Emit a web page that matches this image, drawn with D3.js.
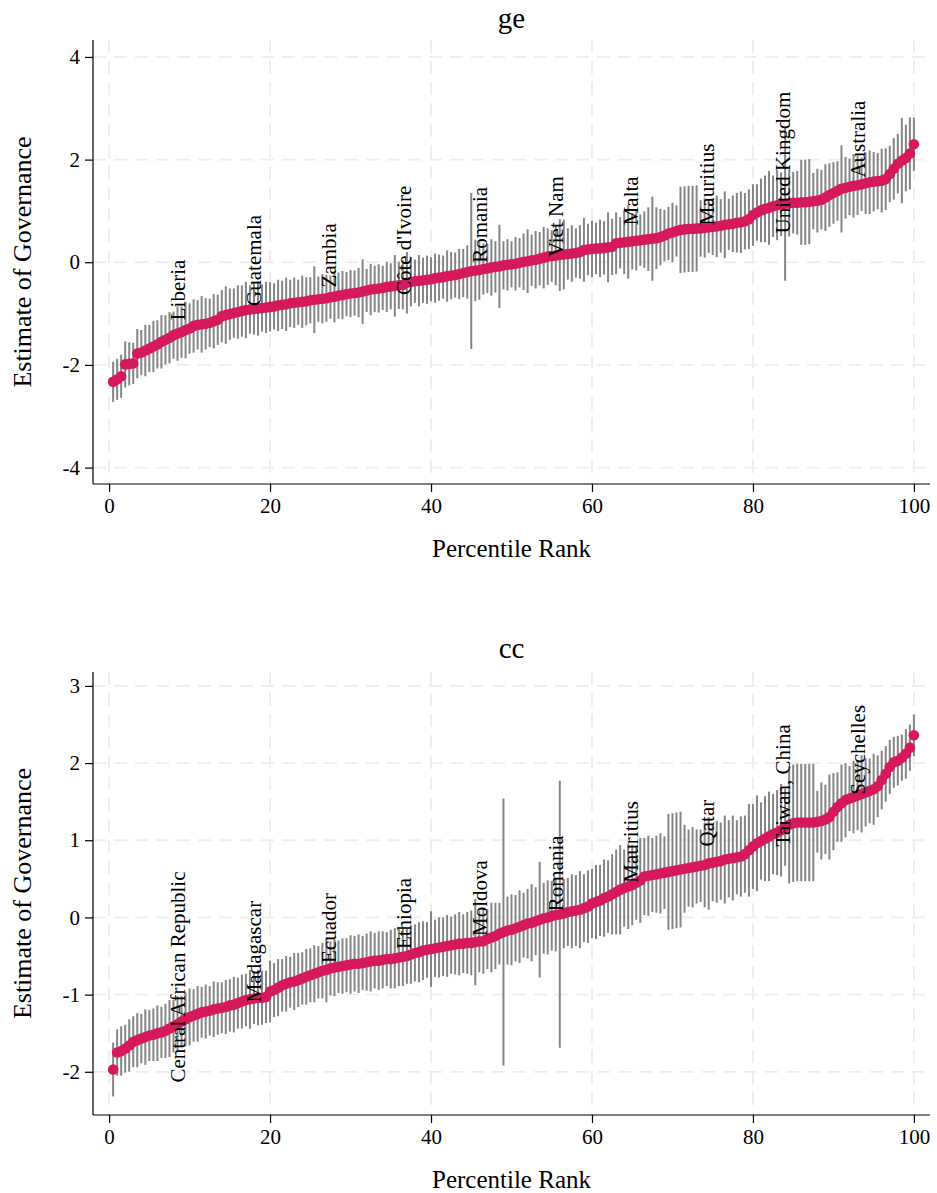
<!DOCTYPE html>
<html>
<head>
<meta charset="utf-8">
<script src="https://cdn.jsdelivr.net/npm/d3@7"></script>
<style>
  html, body { margin: 0; padding: 0; background: #ffffff; }
  svg { display: block; }
  text { font-family: "Liberation Serif", "DejaVu Serif", serif; fill: #000; }
</style>
</head>
<body>
<svg id="chart" width="937" height="1193"></svg>
<script>
// ---------------- DATA ----------------
// Estimates of governance, ordered by percentile rank (200 countries, 0.5 pct apart)
const geEstimate = [
  -2.33,-2.28,-2.22,-1.99,-1.98,-1.97,-1.78,-1.76,-1.72,-1.68,
  -1.64,-1.6,-1.55,-1.51,-1.47,-1.42,-1.39,-1.36,-1.32,-1.29,
  -1.24,-1.22,-1.21,-1.2,-1.18,-1.15,-1.12,-1.05,-1.03,-1.01,
  -0.99,-0.97,-0.95,-0.93,-0.92,-0.91,-0.9,-0.89,-0.88,-0.87,
  -0.86,-0.84,-0.83,-0.82,-0.8,-0.79,-0.78,-0.77,-0.76,-0.74,
  -0.73,-0.72,-0.71,-0.7,-0.68,-0.67,-0.65,-0.64,-0.62,-0.61,
  -0.6,-0.59,-0.57,-0.55,-0.53,-0.52,-0.51,-0.5,-0.48,-0.47,
  -0.46,-0.45,-0.44,-0.4,-0.38,-0.37,-0.36,-0.35,-0.34,-0.33,
  -0.31,-0.3,-0.29,-0.27,-0.26,-0.25,-0.23,-0.21,-0.19,-0.17,
  -0.16,-0.15,-0.13,-0.12,-0.1,-0.09,-0.08,-0.06,-0.05,-0.04,
  -0.03,-0.01,0.01,0.02,0.04,0.05,0.07,0.09,0.11,0.12,
  0.13,0.14,0.15,0.16,0.17,0.18,0.2,0.24,0.25,0.26,
  0.27,0.27,0.28,0.29,0.3,0.37,0.38,0.39,0.4,0.41,
  0.42,0.43,0.44,0.45,0.46,0.47,0.49,0.52,0.56,0.58,
  0.61,0.63,0.64,0.65,0.65,0.66,0.66,0.67,0.68,0.69,
  0.7,0.71,0.73,0.74,0.75,0.77,0.78,0.8,0.84,0.92,
  0.97,1.01,1.04,1.06,1.09,1.11,1.13,1.14,1.15,1.16,
  1.16,1.17,1.17,1.18,1.19,1.2,1.22,1.26,1.31,1.35,
  1.39,1.43,1.45,1.47,1.49,1.5,1.52,1.54,1.56,1.57,
  1.58,1.59,1.62,1.72,1.82,1.92,1.98,2.03,2.12,2.3
];
// half-length of each error bar
const geMargin = [
  0.39,0.4,0.42,0.45,0.42,0.4,0.48,0.44,0.5,0.46,
  0.5,0.47,0.52,0.48,0.5,0.46,0.53,0.5,0.55,0.49,
  0.52,0.48,0.55,0.5,0.47,0.53,0.49,0.51,0.56,0.5,
  0.48,0.52,0.5,0.55,0.47,0.5,0.53,0.46,0.5,0.48,
  0.45,0.5,0.47,0.52,0.46,0.49,0.44,0.51,0.47,0.45,
  0.65,0.44,0.48,0.46,0.42,0.5,0.45,0.47,0.43,0.46,
  0.44,0.48,0.63,0.42,0.5,0.45,0.47,0.43,0.49,0.45,
  0.6,0.46,0.48,0.6,0.48,0.42,0.5,0.44,0.47,0.43,
  0.48,0.45,0.42,0.5,0.46,0.44,0.49,0.47,0.52,1.52,
  0.6,0.58,0.5,0.48,0.55,0.5,0.81,0.47,0.5,0.45,
  0.52,0.48,0.55,0.62,0.5,0.56,0.52,0.6,0.55,0.5,
  0.58,0.7,0.68,0.5,0.55,0.48,0.52,0.62,0.5,0.55,
  0.5,0.56,0.52,0.68,0.55,0.6,0.5,0.62,0.72,0.55,
  0.58,0.5,0.55,0.62,0.82,0.6,0.55,0.5,0.52,0.58,
  0.5,0.84,0.84,0.84,0.84,0.84,0.55,0.58,0.5,0.55,
  0.6,0.52,0.65,0.5,0.55,0.58,0.6,0.55,0.58,0.6,
  0.55,0.62,0.65,0.72,0.6,0.68,0.62,1.5,0.65,0.6,
  0.62,0.83,0.83,0.83,0.55,0.62,0.58,0.65,0.62,0.6,
  0.58,0.85,0.6,0.55,0.62,0.58,0.52,0.6,0.62,0.58,
  0.55,0.62,0.6,0.55,0.6,0.58,0.83,0.65,0.7,0.52
];
const ccEstimate = [
  -1.97,-1.75,-1.73,-1.7,-1.66,-1.61,-1.59,-1.57,-1.55,-1.53,
  -1.52,-1.5,-1.49,-1.47,-1.44,-1.41,-1.38,-1.35,-1.32,-1.29,
  -1.27,-1.25,-1.23,-1.22,-1.21,-1.19,-1.18,-1.17,-1.16,-1.14,
  -1.13,-1.11,-1.09,-1.07,-1.06,-1.05,-1.04,-1.04,-1.03,-0.96,
  -0.94,-0.91,-0.88,-0.86,-0.84,-0.83,-0.81,-0.79,-0.77,-0.75,
  -0.73,-0.71,-0.69,-0.68,-0.66,-0.65,-0.64,-0.63,-0.62,-0.61,
  -0.6,-0.6,-0.59,-0.58,-0.57,-0.56,-0.56,-0.55,-0.54,-0.54,
  -0.53,-0.52,-0.51,-0.5,-0.48,-0.46,-0.45,-0.43,-0.42,-0.41,
  -0.4,-0.39,-0.38,-0.37,-0.36,-0.35,-0.34,-0.34,-0.33,-0.33,
  -0.32,-0.31,-0.31,-0.28,-0.26,-0.24,-0.21,-0.19,-0.17,-0.16,
  -0.14,-0.12,-0.1,-0.08,-0.07,-0.05,-0.03,-0.01,0.0,0.02,
  0.03,0.04,0.05,0.07,0.08,0.09,0.1,0.12,0.14,0.18,
  0.2,0.22,0.25,0.27,0.3,0.33,0.36,0.38,0.4,0.42,
  0.45,0.48,0.53,0.54,0.55,0.56,0.57,0.58,0.59,0.6,
  0.61,0.62,0.63,0.64,0.65,0.66,0.67,0.68,0.7,0.71,
  0.72,0.73,0.75,0.76,0.77,0.78,0.79,0.82,0.87,0.92,
  0.96,0.99,1.02,1.05,1.08,1.1,1.13,1.17,1.2,1.22,
  1.23,1.23,1.23,1.23,1.23,1.24,1.25,1.27,1.3,1.37,
  1.43,1.48,1.52,1.54,1.56,1.58,1.6,1.62,1.64,1.66,
  1.7,1.78,1.86,1.95,2.01,2.03,2.07,2.12,2.2,2.36
];
const ccMargin = [
  0.35,0.3,0.32,0.31,0.34,0.33,0.35,0.32,0.36,0.33,
  0.34,0.36,0.33,0.35,0.37,0.34,0.36,0.33,0.35,0.37,
  0.34,0.36,0.33,0.35,0.32,0.36,0.34,0.33,0.35,0.34,
  0.36,0.33,0.35,0.34,0.38,0.33,0.36,0.35,0.34,0.4,
  0.35,0.37,0.34,0.36,0.33,0.37,0.35,0.34,0.36,0.35,
  0.37,0.34,0.36,0.42,0.35,0.37,0.34,0.36,0.35,0.38,
  0.36,0.38,0.35,0.37,0.39,0.36,0.38,0.37,0.35,0.38,
  0.39,0.37,0.38,0.36,0.38,0.37,0.39,0.38,0.36,0.49,
  0.37,0.39,0.38,0.4,0.37,0.39,0.41,0.38,0.4,0.42,
  0.56,0.4,0.42,0.39,0.45,0.43,0.4,1.73,0.44,0.46,
  0.43,0.47,0.42,0.45,0.5,0.44,0.75,0.46,0.48,0.45,
  0.47,1.73,0.45,0.44,0.48,0.46,0.5,0.44,0.47,0.45,
  0.48,0.46,0.5,0.47,0.52,0.55,0.58,0.5,0.55,0.52,
  0.48,0.55,0.5,0.52,0.48,0.5,0.52,0.47,0.75,0.75,
  0.75,0.75,0.57,0.5,0.52,0.48,0.47,0.55,0.6,0.5,
  0.53,0.5,0.57,0.5,0.55,0.48,0.52,0.5,0.6,0.55,
  0.62,0.5,0.55,0.58,0.52,0.55,0.6,0.5,0.76,0.76,
  0.76,0.76,0.76,0.76,0.76,0.4,0.5,0.45,0.55,0.5,
  0.45,0.5,0.48,0.42,0.47,0.45,0.5,0.44,0.42,0.46,
  0.4,0.38,0.36,0.35,0.33,0.32,0.3,0.32,0.3,0.27
];
// Labelled countries: percentile rank and the value where the label starts
const labelRanks = [8.6, 18.0, 27.3, 36.7, 46.1, 55.5, 64.9, 74.3, 83.7, 93.0];
const geLabelNames = ["Liberia","Guatemala","Zambia","Côte d'Ivoire","Romania","Viet Nam","Malta","Mauritius","United Kingdom","Australia"];
const geLabelValues = [-1.13,-0.85,-0.49,-0.64,-0.01,0.1,0.72,0.72,0.56,1.65];
const ccLabelNames = ["Central African Republic","Madagascar","Ecuador","Ethiopia","Moldova","Romania","Mauritius","Qatar","Taiwan, China","Seychelles"];
const ccLabelValues = [-2.14,-1.1,-0.59,-0.41,-0.24,0.08,0.45,0.92,0.92,1.59];

const xTicks = [0, 20, 40, 60, 80, 100];
const geYTicks = [-4, -2, 0, 2, 4];
const ccYTicks = [-2, -1, 0, 1, 2, 3];
const titles = ["ge", "cc"];
const xTitle = "Percentile Rank";
const yTitle = "Estimate of Governance";

// ---------------- DRAWING ----------------
const svg = d3.select("#chart");
const left = 93, right = 930;
const pointColor = "#D6185C", barColor = "#858585", gridColor = "#EDEDED";

function panel(cfg) {
  const n = cfg.est.length;
  const rows = cfg.est.map((v, i) => ({ rank: (i + 1) * 100 / n, est: v, m: cfg.margin[i] }));
  const x = d3.scaleLinear().domain([-2, 102]).range([left, right]);
  const y = d3.scaleLinear().domain(cfg.ydom).range([cfg.bottom, cfg.top]);
  const g = svg.append("g");

  // grid
  g.append("g").selectAll("line.h").data(cfg.yticks).join("line")
    .attr("x1", left).attr("x2", right).attr("y1", d => y(d)).attr("y2", d => y(d))
    .attr("stroke", gridColor).attr("stroke-width", 1.8).attr("stroke-dasharray", "13,8");
  g.append("g").selectAll("line.v").data(xTicks).join("line")
    .attr("x1", d => x(d)).attr("x2", d => x(d)).attr("y1", cfg.top).attr("y2", cfg.bottom)
    .attr("stroke", gridColor).attr("stroke-width", 1.8).attr("stroke-dasharray", "13,8");

  // error bars
  g.append("g").selectAll("line").data(rows).join("line")
    .attr("x1", d => x(d.rank)).attr("x2", d => x(d.rank))
    .attr("y1", d => y(d.est - d.m)).attr("y2", d => y(d.est + d.m))
    .attr("stroke", barColor).attr("stroke-width", 2);

  // points
  g.append("g").selectAll("circle").data(rows).join("circle")
    .attr("cx", d => x(d.rank)).attr("cy", d => y(d.est)).attr("r", 5.3)
    .attr("fill", pointColor);

  // labels
  const labs = cfg.names.map((nm, i) => ({ name: nm, rank: labelRanks[i], v: cfg.labelValues[i] }));
  g.append("g").selectAll("text").data(labs).join("text")
    .attr("transform", d => `translate(${x(d.rank)},${y(d.v)}) rotate(-90)`)
    .attr("dy", "0.33em").attr("text-anchor", "start")
    .style("font-size", "21px").text(d => d.name);

  // axes
  const xAxis = g.append("g").attr("transform", `translate(0,${cfg.bottom})`)
    .call(d3.axisBottom(x).tickValues(xTicks).tickSize(8).tickPadding(6).tickFormat(d3.format("d")));
  const yAxis = g.append("g").attr("transform", `translate(${left},0)`)
    .call(d3.axisLeft(y).tickValues(cfg.yticks).tickSize(8).tickPadding(5).tickFormat(d => String(d)));
  [xAxis, yAxis].forEach(a => {
    a.select(".domain").attr("stroke", "#000").attr("stroke-width", 1.2);
    a.selectAll(".tick line").attr("stroke", "#000").attr("stroke-width", 1.2);
    a.selectAll(".tick text").style("font-size", "21px").style("font-family", '"Liberation Serif", serif').attr("fill", "#000");
  });
  xAxis.select(".domain").attr("d", `M${left},0H${right}`);
  yAxis.select(".domain").attr("d", `M0,${cfg.top}V${cfg.bottom}`);

  // titles
  g.append("text").attr("x", (left + right) / 2).attr("y", cfg.titleY)
    .attr("text-anchor", "middle").style("font-size", "29px").text(cfg.title);
  g.append("text").attr("x", (left + right) / 2).attr("y", cfg.bottom + 73)
    .attr("text-anchor", "middle").style("font-size", "25px").text(xTitle);
  g.append("text").attr("transform", `translate(31,${(cfg.top + cfg.bottom) / 2}) rotate(-90)`)
    .attr("text-anchor", "middle").style("font-size", "26px").text(yTitle);
}

panel({ est: geEstimate, margin: geMargin, ydom: [-4.32, 4.33], top: 40, bottom: 484,
        yticks: geYTicks, names: geLabelNames, labelValues: geLabelValues, title: titles[0], titleY: 28 });
panel({ est: ccEstimate, margin: ccMargin, ydom: [-2.56, 3.18], top: 672, bottom: 1115,
        yticks: ccYTicks, names: ccLabelNames, labelValues: ccLabelValues, title: titles[1], titleY: 658 });
</script>
</body>
</html>
